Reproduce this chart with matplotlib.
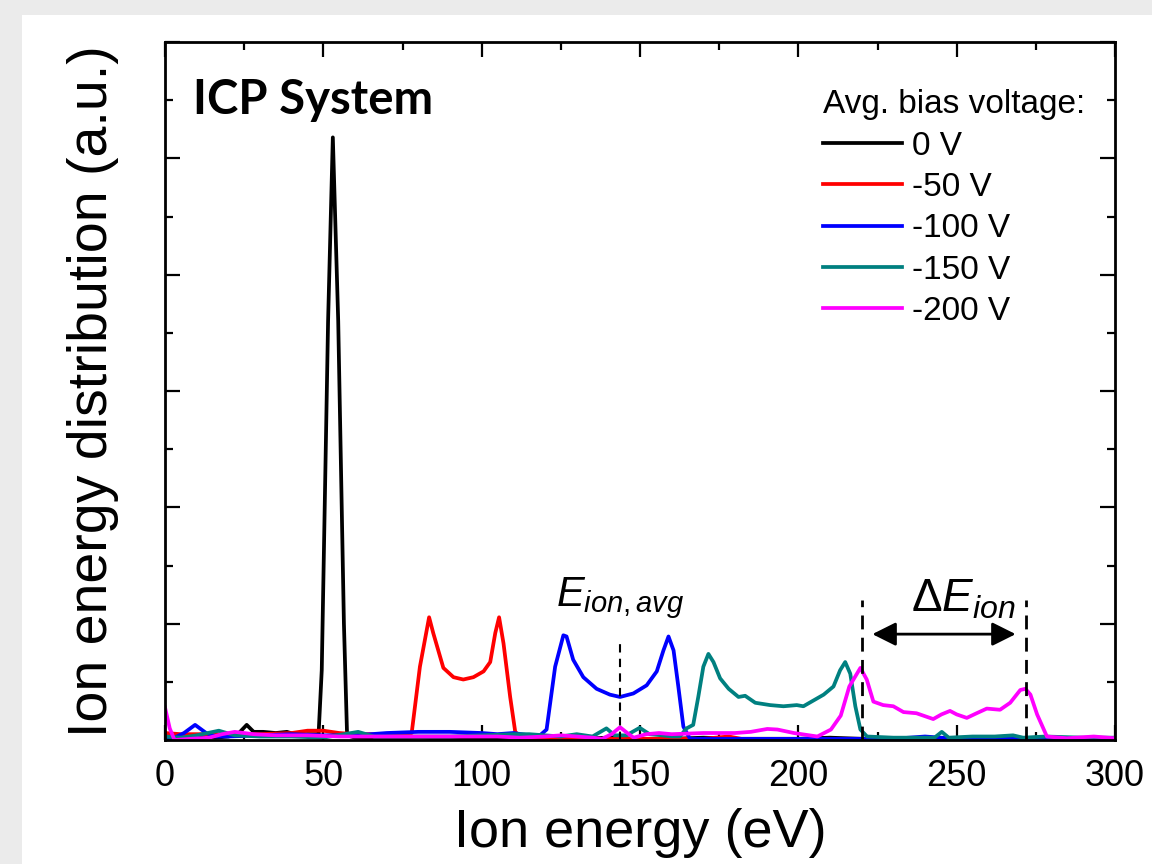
import numpy as np
import matplotlib
matplotlib.use("Agg")
import matplotlib.pyplot as plt
from matplotlib.patches import Rectangle
from matplotlib.ticker import MultipleLocator

plt.rcParams['font.family'] = ['Liberation Sans', 'DejaVu Sans']
plt.rcParams['mathtext.fontset'] = 'custom'
plt.rcParams['mathtext.rm'] = 'Liberation Sans'
plt.rcParams['mathtext.it'] = 'Liberation Sans:italic'

# Ion energy distributions (eV, arbitrary units)
e_0v = [0, 4, 8, 12, 16, 20, 23, 25.8, 28, 31, 35, 38.5, 42, 45, 48.5, 49.5, 51.5, 53,
        54.7, 56.5, 57.5, 60, 70, 80, 90, 100, 110, 120, 130, 140, 150, 160, 170, 180,
        190, 200, 210, 220, 230, 240, 250, 260, 270, 280, 290, 300]
ied_0v = [0.02, 0.03, 0.02, 0.03, 0.02, 0.03, 0.05, 0.13, 0.07, 0.07, 0.06, 0.07, 0.04, 0.05,
          0.05, 0.6, 3.6, 5.18, 3.6, 1.0, 0.04, 0.02, 0.01, 0.02, 0.01, 0.01, 0.02, 0.01,
          0.01, 0.02, 0.01, 0.01, 0.02, 0.01, 0.01, 0.01, 0.02, 0.01, 0.01, 0.02, 0.01,
          0.01, 0.01, 0.02, 0.01, 0.01]

e_50v = [0, 5, 10, 20, 30, 40, 45, 50, 55, 60, 65, 70, 75, 77.9, 80.5, 83.4, 84.7, 87.9,
         91.1, 94.2, 97.4, 100.6, 102.7, 104.3, 105.5, 106.9, 109.0, 110.6, 113, 120, 130,
         140, 150, 160, 170, 178, 182, 190, 200, 220, 240, 260, 280, 300]
ied_50v = [0.06, 0.05, 0.05, 0.05, 0.05, 0.06, 0.08, 0.08, 0.06, 0.05, 0.05, 0.04, 0.04,
           0.06, 0.63, 1.055, 0.92, 0.62, 0.54, 0.52, 0.54, 0.59, 0.67, 0.92, 1.055, 0.83,
           0.37, 0.07, 0.01, 0.01, 0.01, 0.01, 0.01, 0.01, 0.01, 0.03, 0.01, 0.01, 0.01,
           0.01, 0.01, 0.01, 0.01, 0.01]

e_100v = [0, 3, 6, 9.5, 13, 16, 20, 30, 40, 50, 60, 70, 80, 90, 100, 105, 110, 115, 118,
          120.5, 123.2, 125.8, 126.8, 128.9, 132.1, 136.3, 140.5, 143.7, 147.9, 152.1,
          155.3, 157.4, 159.0, 160.6, 162.1, 163.7, 165.8, 175, 190, 210, 230, 240, 250,
          270, 290, 300]
ied_100v = [0.03, 0.02, 0.06, 0.13, 0.06, 0.03, 0.03, 0.04, 0.05, 0.04, 0.04, 0.06, 0.07,
            0.07, 0.06, 0.05, 0.06, 0.04, 0.03, 0.09, 0.63, 0.90, 0.89, 0.69, 0.54, 0.44,
            0.39, 0.37, 0.40, 0.47, 0.59, 0.77, 0.89, 0.77, 0.46, 0.115, 0.01, 0.01, 0.01,
            0.01, 0.01, 0.03, 0.01, 0.01, 0.01, 0.01]

e_150v = [0, 5, 10, 17, 22, 30, 40, 50, 61, 66, 75, 90, 100, 110, 115, 120, 125, 130, 135,
          139.4, 142, 145.7, 149.9, 153, 157, 160, 162.6, 164.7, 166.8, 168.4, 170.0, 171.6,
          173.2, 175.3, 178.0, 181.1, 183.2, 186.4, 191.1, 195.3, 199.5, 201.6, 204.8,
          208.0, 211.1, 213.2, 214.8, 216.4, 218.0, 219.6, 221.7, 230, 240, 243, 245.3,
          247.5, 255, 262, 267.8, 271, 278, 290, 300]
ied_150v = [0.03, 0.02, 0.04, 0.08, 0.04, 0.03, 0.03, 0.02, 0.07, 0.03, 0.03, 0.03, 0.04,
            0.05, 0.05, 0.04, 0.03, 0.05, 0.03, 0.10, 0.04, 0.04, 0.105, 0.05, 0.04, 0.03,
            0.03, 0.10, 0.13, 0.37, 0.63, 0.74, 0.67, 0.53, 0.44, 0.37, 0.38, 0.32, 0.30,
            0.29, 0.30, 0.29, 0.34, 0.39, 0.46, 0.60, 0.67, 0.57, 0.29, 0.09, 0.03, 0.02,
            0.02, 0.02, 0.07, 0.02, 0.03, 0.03, 0.04, 0.02, 0.03, 0.02, 0.02]

e_200v = [0, 1.5, 3, 8, 14, 18, 22, 28, 35, 45, 55, 65, 75, 85, 95, 105, 112, 120, 125, 130,
          135, 138, 141, 143.7, 146, 148, 152, 156, 160, 170, 180, 185, 190.2, 193.4, 198.6,
          206.0, 210.3, 213.4, 216.1, 219.6, 221.6, 223.7, 226.8, 230.0, 233.2, 237.3,
          242.6, 245.2, 247.9, 250.0, 253.2, 256.3, 259.5, 263.7, 266.9, 270.1, 271.7,
          273.3, 275.4, 278.5, 284.8, 293.3, 300]
ied_200v = [0.28, 0.1, 0.0, 0.01, 0.02, 0.05, 0.07, 0.05, 0.04, 0.04, 0.03, 0.03, 0.03,
            0.03, 0.03, 0.03, 0.02, 0.03, 0.04, 0.03, 0.02, 0.01, 0.05, 0.11, 0.06, 0.02,
            0.05, 0.06, 0.05, 0.06, 0.06, 0.07, 0.095, 0.09, 0.06, 0.03, 0.09, 0.21, 0.46,
            0.62, 0.52, 0.33, 0.30, 0.29, 0.24, 0.23, 0.18, 0.22, 0.25, 0.22, 0.19, 0.23,
            0.27, 0.26, 0.32, 0.43, 0.44, 0.39, 0.22, 0.03, 0.015, 0.03, 0.015]

labels = ['0 V', '-50 V', '-100 V', '-150 V', '-200 V']
colors = ['black', '#ff0000', '#0000ff', '#008080', '#ff00ff']

e_avg = 143.7
e_low, e_high = 220.0, 272.0

fig = plt.figure(figsize=(11.52, 8.64), dpi=100)
fig.patch.set_facecolor('#ebebeb')
card = Rectangle((22 / 1152, 0), 1.0, 1 - 15 / 864, transform=fig.transFigure,
                 facecolor='white', edgecolor='none', zorder=-5)
fig.add_artist(card)

ax = fig.add_axes([165 / 1152, 1 - 740 / 864, 950 / 1152, 698 / 864])
ax.set_facecolor('white')

series = [(e_0v, ied_0v), (e_50v, ied_50v), (e_100v, ied_100v),
          (e_150v, ied_150v), (e_200v, ied_200v)]
for (x, y), lab, c in zip(series, labels, colors):
    ax.plot(x, y, color=c, lw=2.7, label=lab)

ax.set_xlim(0, 300)
ax.set_ylim(0, 6)
ax.xaxis.set_major_locator(MultipleLocator(50))
ax.xaxis.set_minor_locator(MultipleLocator(25))
ax.yaxis.set_major_locator(MultipleLocator(1))
ax.yaxis.set_minor_locator(MultipleLocator(0.5))
ax.tick_params(which='both', direction='in', top=True, right=True, width=1.6)
ax.tick_params(which='major', length=11)
ax.tick_params(which='minor', length=6)
ax.tick_params(axis='x', labelsize=26, pad=14)
ax.tick_params(axis='y', labelleft=False)
for sp in ax.spines.values():
    sp.set_linewidth(2.0)

ax.set_xlabel('Ion energy (eV)', fontsize=39, labelpad=10)
ax.set_ylabel('Ion energy distribution (a.u.)', fontsize=40, labelpad=30)

ax.text(0.029, 0.948, 'ICP System', transform=ax.transAxes, fontsize=34,
        fontweight='bold', family='Lato', va='top', ha='left')

leg = ax.legend(loc='upper left', bbox_to_anchor=(0.6926, 0.932), frameon=False,
                title='Avg. bias voltage:', fontsize=24, title_fontsize=24,
                alignment='left', handlelength=2.37, handletextpad=0.3,
                labelspacing=0.31, borderpad=0, borderaxespad=0)

# annotations
ax.plot([e_avg, e_avg], [0, 0.84], ls=(0, (4, 3)), color='black', lw=1.5)
ax.text(e_avg, 1.02, r'$E_{ion,avg}$', fontsize=30, ha='center', va='bottom')
for xe in (e_low, e_high):
    ax.plot([xe, xe], [0, 1.2], ls=(0, (5, 3)), color='black', lw=2.0)
ax.annotate('', xy=(e_low + 2.5, 0.91), xytext=(e_high - 2.5, 0.91),
            arrowprops=dict(arrowstyle='<|-|>', color='black', lw=2.0, mutation_scale=36))
ax.text(252, 1.02, r'$\Delta E_{ion}$', fontsize=33, ha='center', va='bottom')

fig.savefig('out.png', dpi=100, facecolor=fig.get_facecolor())
